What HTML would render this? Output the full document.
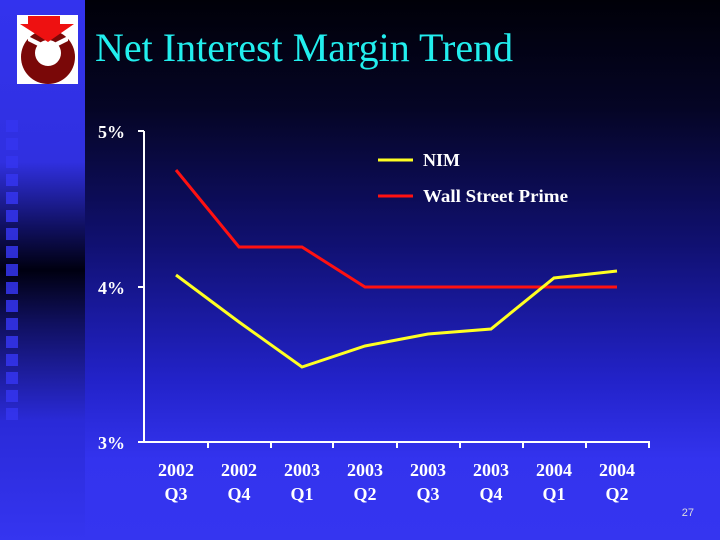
<!DOCTYPE html>
<html><head><meta charset="utf-8"><style>
html,body{margin:0;padding:0}
body{width:720px;height:540px;position:relative;overflow:hidden;font-family:"Liberation Serif",serif;
background:linear-gradient(to bottom,#000008 0%,#050525 20%,#101070 45%,#2222c8 70%,#3333ee 85%,#3535f0 100%);}
#strip{position:absolute;left:0;top:0;width:85px;height:540px;
background:linear-gradient(to bottom,#3333ee 0%,#3030e0 30%,#101060 42%,#000010 50%,#101060 60%,#2a2ad8 78%,#3535f0 100%);}
</style></head><body>
<div id="strip"></div>
<div style="position:absolute;left:17px;top:15px;width:61px;height:69px;background:#fff"></div>
<svg style="position:absolute;left:0;top:0" width="720" height="540">
<circle cx="48" cy="57" r="27" fill="#7a0808"/>
<circle cx="48" cy="53" r="13" fill="#fff"/>
<polygon points="28,36 48,46 68,36 68,41 48,51 28,41" fill="#fff"/>
<polygon points="20,24 28,24 28,16 60,16 60,24 74,24 48,42" fill="#ee1111"/>
</svg>
<div style="position:absolute;left:95px;top:24px;font-size:40px;color:#22eeee;white-space:nowrap">Net Interest Margin Trend</div>
<svg style="position:absolute;left:0;top:0" width="720" height="540">
<g fill="#3535f0" opacity="0.85">
<rect x="6" y="120" width="12" height="12"/><rect x="6" y="138" width="12" height="12"/><rect x="6" y="156" width="12" height="12"/><rect x="6" y="174" width="12" height="12"/><rect x="6" y="192" width="12" height="12"/><rect x="6" y="210" width="12" height="12"/><rect x="6" y="228" width="12" height="12"/><rect x="6" y="246" width="12" height="12"/><rect x="6" y="264" width="12" height="12"/><rect x="6" y="282" width="12" height="12"/><rect x="6" y="300" width="12" height="12"/><rect x="6" y="318" width="12" height="12"/><rect x="6" y="336" width="12" height="12"/><rect x="6" y="354" width="12" height="12"/><rect x="6" y="372" width="12" height="12"/><rect x="6" y="390" width="12" height="12"/><rect x="6" y="408" width="12" height="12"/>
</g>
<g stroke="#fff" stroke-width="2" fill="none">
<line x1="144" y1="131" x2="144" y2="443"/>
<line x1="143" y1="442" x2="650" y2="442"/>
<line x1="138" y1="131" x2="144" y2="131"/><line x1="138" y1="287" x2="144" y2="287"/><line x1="138" y1="442" x2="144" y2="442"/>
<line x1="208" y1="442" x2="208" y2="448"/><line x1="271" y1="442" x2="271" y2="448"/><line x1="333" y1="442" x2="333" y2="448"/><line x1="397" y1="442" x2="397" y2="448"/><line x1="460" y1="442" x2="460" y2="448"/><line x1="523" y1="442" x2="523" y2="448"/><line x1="586" y1="442" x2="586" y2="448"/><line x1="649" y1="442" x2="649" y2="448"/>
</g>
<polyline points="176,170 239,247 302,247 365,287 428,287 491,287 554,287 617,287" fill="none" stroke="#ff1111" stroke-width="3"/>
<polyline points="176,275 239,322 302,367 365,346 428,334 491,329 554,278 617,271" fill="none" stroke="#ffff22" stroke-width="3"/>
<line x1="378" y1="160" x2="413" y2="160" stroke="#ffff22" stroke-width="3"/>
<line x1="378" y1="196" x2="413" y2="196" stroke="#ff1111" stroke-width="3"/>
<g fill="#fff" font-family="Liberation Serif, serif" font-weight="bold" font-size="18">
<text x="423" y="166">NIM</text>
<text x="423" y="202" textLength="145" lengthAdjust="spacingAndGlyphs">Wall Street Prime</text>
<text x="98" y="138">5%</text><text x="98" y="294">4%</text><text x="98" y="449">3%</text>
</g>
<g fill="#fff" font-family="Liberation Serif, serif" font-weight="bold" font-size="18" text-anchor="middle">
<text x="176" y="476">2002</text><text x="176" y="500">Q3</text>
<text x="239" y="476">2002</text><text x="239" y="500">Q4</text>
<text x="302" y="476">2003</text><text x="302" y="500">Q1</text>
<text x="365" y="476">2003</text><text x="365" y="500">Q2</text>
<text x="428" y="476">2003</text><text x="428" y="500">Q3</text>
<text x="491" y="476">2003</text><text x="491" y="500">Q4</text>
<text x="554" y="476">2004</text><text x="554" y="500">Q1</text>
<text x="617" y="476">2004</text><text x="617" y="500">Q2</text>
</g>
<text x="694" y="516" fill="#dddddd" font-family="Liberation Sans, sans-serif" font-size="11" text-anchor="end">27</text>
</svg>
</body></html>
